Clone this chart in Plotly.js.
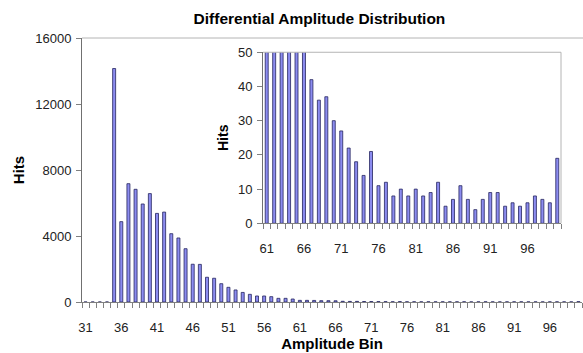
<!DOCTYPE html>
<html>
<head>
<meta charset="utf-8">
<script src="https://cdn.plot.ly/plotly-3.0.1.min.js"></script>
<style>html,body{margin:0;padding:0;background:#fff;}#chart{width:583px;height:353px;}</style>
</head>
<body>
<div id="chart"></div>
<script>
// Amplitude bins (categories)
const bins = [31,32,33,34,35,36,37,38,39,40,41,42,43,44,45,46,47,48,49,50,
              51,52,53,54,55,56,57,58,59,60,61,62,63,64,65,66,67,68,69,70,
              71,72,73,74,75,76,77,78,79,80,81,82,83,84,85,86,87,88,89,90,
              91,92,93,94,95,96,97,98,99,100];
// Hits per bin
const hits = [0,0,0,0,14150,4870,7170,6830,5940,6570,5370,5450,4140,3880,3230,2290,2280,1500,1440,1110,
              890,730,580,465,364,364,323,222,222,182,100,100,95,80,80,75,42,36,37,30,
              27,22,18,14,21,11,12,8,10,8,10,8,9,12,5,7,11,7,4,7,
              9,9,5,6,5,6,8,7,6,19];
// Tick labels
const mainTicks = [31,36,41,46,51,56,61,66,71,76,81,86,91,96];
const insetTicks = [61,66,71,76,81,86,91,96];
const mainYTicks = [0,4000,8000,12000,16000];
const insetYTicks = [0,10,20,30,40,50];
const insetStart = 61;

const insetIdx = bins.indexOf(insetStart);
const insetBins = bins.slice(insetIdx);
const insetHits = hits.slice(insetIdx);

const FONT = 'Liberation Sans, Arial, sans-serif';
const barFill = '#8c8cf0';
const barLine = '#25255e';

const traces = [
  {type:'bar', x:bins, y:hits, width:0.42, xaxis:'x', yaxis:'y',
   marker:{color:barFill, line:{color:barLine, width:0.8}}, hoverinfo:'x+y'},
  {type:'bar', x:insetBins, y:insetHits, width:0.4, xaxis:'x2', yaxis:'y2',
   marker:{color:barFill, line:{color:barLine, width:0.8}}, hoverinfo:'x+y'}
];

const ix0 = 0.362, ix1 = 0.958, iy0 = 0.298, iy1 = 0.946;

const tickFont = {family:FONT, size:13, color:'#222'};
const layout = {
  width:583, height:353,
  margin:{l:82, r:1, t:38, b:51, pad:0},
  paper_bgcolor:'#fff', plot_bgcolor:'#fff',
  showlegend:false,
  font:{family:FONT, color:'#000'},
  title:{text:'<b>Differential Amplitude Distribution</b>', font:{family:FONT, size:15.5, color:'#000'},
         xref:'container', x:0.548, xanchor:'center', yref:'container', y:0.948, yanchor:'middle'},
  xaxis:{domain:[0,1], range:[30.5,100.5], tickmode:'array', tickvals:mainTicks, ticktext:mainTicks.map(String),
         ticks:'', showline:true, linecolor:'#808080', linewidth:1, showgrid:false, zeroline:false,
         tickfont:tickFont, ticklabelstandoff:13,
         minor:{ticks:'outside', tick0:30.5, dtick:1, ticklen:5, tickcolor:'#808080', tickwidth:1, showgrid:false},
         title:{text:'<b>Amplitude Bin</b>', font:{family:FONT, size:15, color:'#000'}, standoff:1}},
  yaxis:{domain:[0,1], range:[0,16000], tickmode:'array', tickvals:mainYTicks, ticktext:mainYTicks.map(String),
         ticks:'outside', ticklen:5, tickcolor:'#808080', showline:true, linecolor:'#707070', linewidth:1,
         showgrid:false, zeroline:false, tickfont:tickFont, ticklabelstandoff:2,
         title:{text:'<b>Hits</b>', font:{family:FONT, size:15, color:'#000'}, standoff:6}},
  xaxis2:{domain:[ix0,ix1], anchor:'y2', range:[60.5,100.5], tickmode:'array', tickvals:insetTicks, ticktext:insetTicks.map(String),
         ticks:'', showline:true, linecolor:'#808080', linewidth:1, showgrid:false, zeroline:false,
         tickfont:tickFont, ticklabelstandoff:13,
         minor:{ticks:'outside', tick0:60.5, dtick:1, ticklen:5, tickcolor:'#808080', tickwidth:1, showgrid:false}},
  yaxis2:{domain:[iy0,iy1], anchor:'x2', range:[0,50], tickmode:'array', tickvals:insetYTicks, ticktext:insetYTicks.map(String),
         ticks:'outside', ticklen:5, tickcolor:'#808080', showline:true, linecolor:'#707070', linewidth:1,
         showgrid:false, zeroline:false, tickfont:tickFont, ticklabelstandoff:2,
         title:{text:'<b>Hits</b>', font:{family:FONT, size:14, color:'#000'}, standoff:6}},
  shapes:[
    {type:'line', xref:'paper', yref:'paper', x0:0, x1:1.01, y0:1, y1:1, line:{color:'#b4b4b4', width:1}},
    {type:'line', xref:'paper', yref:'paper', x0:ix0, x1:ix1, y0:iy1, y1:iy1, line:{color:'#b4b4b4', width:1}},
    {type:'line', xref:'paper', yref:'paper', x0:ix1, x1:ix1, y0:iy0, y1:iy1, line:{color:'#b4b4b4', width:1}}
  ]
};

Plotly.newPlot('chart', traces, layout, {displayModeBar:false, staticPlot:true});
</script>
</body>
</html>
